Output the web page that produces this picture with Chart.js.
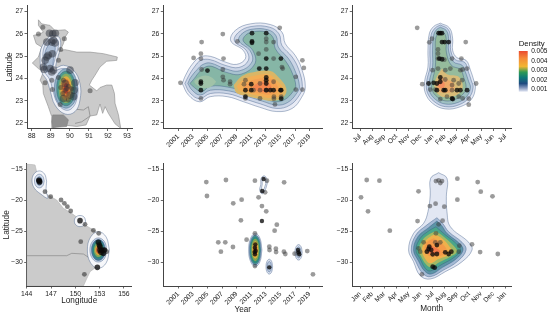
<!DOCTYPE html>
<html>
<head>
<meta charset="utf-8">
<title>Density by place and time</title>
<script src="https://cdn.jsdelivr.net/npm/chart.js@4/dist/chart.umd.min.js"></script>
<style>
  body { margin: 0; background: #fff; }
  canvas { position: absolute; }
</style>
</head>
<body>
<canvas id="p1"></canvas><canvas id="p2"></canvas><canvas id="p3"></canvas>
<canvas id="p4"></canvas><canvas id="p5"></canvas><canvas id="p6"></canvas>
<canvas id="legend"></canvas>
<script>
// tick lists
const yearTicks = [2001, 2003, 2005, 2007, 2009, 2011, 2013, 2015, 2017, 2019];
const monthsFromJul = ['Jul', 'Aug', 'Sep', 'Oct', 'Nov', 'Dec', 'Jan', 'Feb', 'Mar', 'Apr', 'May', 'Jun', 'Jul'];
const monthsFromJan = ['Jan', 'Feb', 'Mar', 'Apr', 'May', 'Jun', 'Jul', 'Aug', 'Sep', 'Oct', 'Nov', 'Dec', 'Jan'];
const monthTicks = [0, 1, 2, 3, 4, 5, 6, 7, 8, 9, 10, 11, 12];
const topLatTicks = [22, 23, 24, 25, 26, 27];
const bottomLatTicks = [-30, -25, -20, -15];
const topLonTicks = [88, 89, 90, 91, 92, 93];
const bottomLonTicks = [144, 147, 150, 153, 156];
const densityTicks = [0.001, 0.002, 0.003, 0.004, 0.005];

// maps
const bangladeshOutline = [[88.35,26.63],[88.52,26.45],[88.7,26.42],[88.96,26.38],[89.22,26.15],[89.75,26.18],[89.92,26.08],[89.75,25.85],[89.66,25.56],[89.49,25.26],[89.75,25.29],[90.36,25.18],[91.06,25.18],[91.76,25.11],[92.49,24.96],[92.46,24.81],[91.93,24.77],[91.58,24.51],[91.32,24.14],[91.15,23.92],[91.02,23.7],[91.41,23.44],[91.58,23.59],[91.93,23.7],[92.2,23.7],[92.34,23.32],[92.37,22.88],[92.55,22.36],[92.67,21.76],[92.37,21.96],[92.02,22.43],[91.85,22.73],[91.72,22.43],[91.58,22.85],[91.41,22.36],[91.06,22.31],[90.85,21.91],[90.36,21.84],[89.66,21.91],[89.05,21.78],[89.05,22.28],[88.87,22.73],[88.61,23.32],[88.58,23.7],[88.44,23.92],[88.61,24.29],[88.35,24.44],[88.03,24.69],[88.35,24.96],[88.52,25.41],[88.23,25.56],[88.09,25.93],[88.44,26],[88.61,26.08],[88.35,26.38]];
const sundarbans = [[89.1,22.36],[89.66,22.36],[89.92,22.14],[89.83,21.84],[89.1,21.79],[89.05,22.05]];
const deltaRiver = [[90.25,22.62],[90.71,22.58],[90.97,22.73],[91.06,22.31],[90.62,22.05],[90.27,21.98]];
const queenslandOutline = [[144,-14.14],[145.03,-14.35],[145.32,-15.97],[145.65,-17.85],[146.26,-18.92],[147.7,-20],[148.53,-21.34],[149.56,-22.15],[150.38,-22.96],[151.2,-24.03],[152.44,-25],[153.05,-25.65],[153.26,-26.99],[153.88,-28.33],[153.26,-29.95],[152.64,-30.75],[151.82,-31.56],[151.33,-32.9],[151,-33.87],[144,-33.87]];
const stateBorder = [[144,-28.98],[148.94,-28.98],[149.56,-28.6],[151,-28.71],[151.82,-29.41]];

// panel 1: latitude by longitude, Bangladesh
const p1Sites = [[88.58,26.3],[88.35,25.99],[89.71,25.78],[89.52,25.3],[89.4,24.81],[88.7,23.8],[89.05,23.92],[89.08,23.5],[89.4,24.04],[89.49,22.83],[91.06,23.44],[89.66,23.92],[89.92,23.65],[89.84,23.55],[89.75,23.47],[89.63,23.32],[89.92,23.03],[90.1,23.55],[89.52,23.59]];
const p1Clusters = [[88.93,26.03],[89.1,26],[89.24,26.03],[88.79,25.63],[89.14,25.71],[89.22,25.59],[89.05,25.63],[89.08,25.11],[88.79,24.96],[88.7,24.81],[88.87,25.04],[88.61,24.51],[88.65,24.4],[88.96,24.44],[89.14,24.37],[89.05,24.29],[90.01,24.37],[90.27,23.8],[89.75,23.77],[90.01,23.25],[90.19,23.18],[89.66,23.1],[90.22,23.47]];
const p1Levels = [
  [[88.96,25.93],[89.4,25.88],[89.52,25.48],[89.35,24.89],[89.28,24.49],[89.66,24.59],[90.19,24.37],[90.53,23.77],[90.53,23.03],[90.27,22.51],[89.75,22.4],[89.22,22.8],[88.96,23.47],[88.79,23.92],[88.52,24.29],[88.44,24.89],[88.52,25.41]],
  [[88.96,25.82],[89.31,25.78],[89.4,25.48],[89.22,24.89],[89.14,24.37],[89.66,24.44],[90.05,24.25],[90.4,23.7],[90.36,23.06],[90.1,22.65],[89.75,22.58],[89.35,22.88],[89.1,23.47],[88.96,23.92],[88.65,24.34],[88.58,24.89],[88.65,25.41]],
  [[88.96,25.63],[89.22,25.48],[89.14,24.89],[89.05,24.44],[88.79,24.29],[88.67,24.59],[88.7,25.18]],
  [[90.41,23.55],[90.23,24.18],[89.8,24.44],[89.37,24.18],[89.19,23.55],[89.37,22.92],[89.8,22.66],[90.23,22.92]],
  [[90.29,23.55],[90.15,24.1],[89.8,24.33],[89.45,24.1],[89.31,23.55],[89.45,23],[89.8,22.77],[90.15,23]],
  [[90.18,23.55],[90.07,24.02],[89.8,24.21],[89.53,24.02],[89.42,23.55],[89.53,23.08],[89.8,22.89],[90.07,23.08]],
  [[90.1,23.55],[90.01,23.94],[89.8,24.1],[89.59,23.94],[89.5,23.55],[89.59,23.16],[89.8,23],[90.01,23.16]],
  [[90.04,23.55],[89.97,23.85],[89.8,23.97],[89.63,23.85],[89.56,23.55],[89.63,23.25],[89.8,23.13],[89.97,23.25]],
  [[89.93,23.55],[89.89,23.72],[89.8,23.79],[89.71,23.72],[89.67,23.55],[89.71,23.38],[89.8,23.31],[89.89,23.38]]
];
const p1LevelFill = ['#eef0f6', '#d5ddec', '#aebfd6', '#8fb0c2', '#4f9a8c', '#86ab62', '#dfab42', '#e58232', '#c9442a'];

// panel 2: latitude by year, Bangladesh
const p2Sites = [[2001.3,23.8],[2003.1,24.92],[2004.1,25.11],[2004.1,24.89],[2004.2,25.63],[2007.1,25.99],[2007.2,24.89],[2007.1,24.4],[2007.1,24.07],[2007.2,23.92],[2008.1,23.85],[2008.1,23.74],[2009.1,25.66],[2004.2,24.4],[2004.1,23.1],[2010.2,23.92],[2010,23.74],[2012,25.11],[2014.06,25.63],[2014.9,26.27],[2014.06,24.89],[2013.05,25.78],[2013.05,25.63],[2013.05,25.3],[2015.2,24.51],[2015.3,24.44],[2017.1,24.07],[2017.1,23.5],[2018,23.5],[2018,24.81],[2018.2,24.47],[2014.24,22.83],[2012.2,23.1],[2010.2,23.1],[2012.2,23.77],[2012.2,23.47],[2011.3,23.47],[2014.06,23.85],[2014.1,23.18],[2014.1,23.09],[2015.1,23.18],[2013.05,23.47]];
const p2Heavy = [[2004.1,23.85],[2004.1,23.77],[2004.1,23.47],[2005,24.35],[2011.1,26.03],[2011.1,25.66],[2011.1,25.6],[2013.05,26.03],[2013.05,24.89],[2015.06,24.89],[2012.1,24.44],[2013.05,24.44],[2013.05,24.04],[2013.05,23.92],[2013.05,23.77],[2010.2,23.47],[2011,23.74],[2011,23.47],[2013.05,23.47],[2013.6,23.47],[2015.1,23.47],[2010.2,23.18],[2015.1,23.09],[2014.06,23.47],[2015,23.47]];
const p2Levels = [
  [[2001.55,23.77],[2002,24.14],[2002.9,24.63],[2004,24.96],[2005.4,24.99],[2007.4,24.74],[2009,24.63],[2010.2,24.89],[2009.9,25.26],[2008.2,25.68],[2008.8,26.15],[2010.9,26.45],[2013.6,26.42],[2015.2,26.08],[2015.66,25.56],[2017,25.04],[2017.9,24.44],[2018.4,23.62],[2017.9,23.15],[2016.6,22.65],[2014.5,22.51],[2012.2,22.7],[2009.95,22.95],[2007.7,23.18],[2005.4,23.18],[2003.9,22.95],[2002.4,23.25]],
  [[2001.9,23.77],[2002.4,24.1],[2003.2,24.51],[2004.1,24.81],[2005.4,24.84],[2007.4,24.59],[2009.3,24.49],[2010.6,24.81],[2010.3,25.26],[2008.7,25.68],[2009.3,26.08],[2011,26.33],[2013.5,26.3],[2014.8,26],[2015.2,25.48],[2016.6,24.96],[2017.5,24.4],[2018,23.65],[2017.6,23.25],[2016.3,22.8],[2014.5,22.65],[2012.3,22.85],[2010,23.09],[2007.8,23.31],[2005.4,23.32],[2003.9,23.09],[2002.6,23.35]],
  [[2002.3,23.77],[2002.7,24.04],[2003.6,24.4],[2004.4,24.63],[2005.4,24.69],[2007.4,24.44],[2009.4,24.34],[2011.1,24.74],[2010.8,25.26],[2009.3,25.68],[2009.7,26],[2011.1,26.21],[2013.3,26.18],[2014.4,25.91],[2014.7,25.41],[2016.1,24.89],[2017,24.34],[2017.6,23.65],[2017.2,23.32],[2016,22.92],[2014.5,22.8],[2012.5,22.98],[2010.2,23.22],[2007.9,23.44],[2005.4,23.47],[2004,23.25],[2002.9,23.47]],
  [[2002.6,23.77],[2003.2,24],[2003.9,24.29],[2004.7,24.51],[2005.6,24.54],[2007.4,24.29],[2009.6,24.19],[2011.5,24.66],[2011.2,25.26],[2009.9,25.68],[2010.2,25.93],[2011.2,26.09],[2013.05,26.08],[2014,25.82],[2014.3,25.33],[2015.7,24.78],[2016.6,24.25],[2017.1,23.65],[2016.7,23.4],[2015.7,23.07],[2014.5,22.95],[2012.7,23.1],[2010.4,23.35],[2008.1,23.59],[2005.4,23.65],[2004.2,23.4],[2003.2,23.59]],
  [[2006.2,23.85],[2005.6,24.04],[2004.7,24.13],[2003.8,24.04],[2003.2,23.85],[2003.8,23.65],[2004.7,23.56],[2005.6,23.65]],
  [[2008.6,23.7],[2009.7,24.1],[2011.3,24.28],[2013.6,24.33],[2014.7,24.06],[2015.8,23.55],[2015.4,23.16],[2014.06,23],[2012.2,23.08],[2010.2,23.22],[2008.95,23.36]],
  [[2009,23.65],[2010,23.96],[2011.5,24.12],[2013.4,24.18],[2014.4,23.93],[2015.4,23.55],[2015.1,23.26],[2013.8,23.12],[2012.2,23.2],[2010.3,23.36],[2009.4,23.44]],
  [[2009.9,23.59],[2010.6,23.84],[2012,23.98],[2013.4,24.02],[2014.3,23.8],[2014.7,23.5],[2014.06,23.28],[2012.2,23.32],[2010.6,23.46]],
  [[2011.1,23.59],[2012,23.8],[2013.15,23.84],[2013.8,23.59],[2013.4,23.39],[2012,23.42]]
];
const p2LevelFill = ['#e8ebf5', '#cbd5e6', '#a8c2cf', '#86b6a6', '#a0c2a8', '#d9b666', '#f2ae55', '#f5a052', '#f6864e'];

// panel 3: latitude by month, Bangladesh
const p3Sites = [[4.72,26.27],[5.72,25.62],[5.94,25.78],[8.73,25.63],[8.37,24.89],[8.84,24.44],[5.14,23.74],[9.59,23.77],[8.98,22.82],[8.98,23.09],[6.63,23.07],[6.44,25.3],[6.44,25.11],[6.44,24.89],[6.96,24.84],[7.6,24.89],[5.99,24.37],[6.44,24.44],[7.04,24.37],[7.46,24.44],[8.29,24.37],[8.48,24.4],[5.8,23.5],[6.22,23.5],[7.04,23.95],[7.73,23.92],[8.43,23.92],[7.6,23.7],[8.15,23.77],[7.18,23.18],[8.15,23.18],[8.48,23.1],[7.6,23.47]];
const p3Heavy = [[6.63,26.03],[6.49,26.03],[6.77,26.03],[6.77,25.63],[6.99,25.63],[7.32,25.63],[6.55,24.89],[6.77,24.86],[6.63,24.04],[6.08,23.8],[6.35,23.77],[6.63,23.85],[6.35,23.47],[6.91,23.47],[7.04,23.47],[7.6,23.1],[7.66,23.07],[8.01,23.47],[8.29,23.47],[8.84,23.47],[5.66,23.77]];
const p3Levels = [
  [[6.63,26.48],[7.38,26.27],[7.65,25.78],[7.65,25.26],[8.01,24.93],[8.76,24.81],[9.12,24.37],[9.39,23.92],[9.53,23.59],[9.2,23.06],[8.29,22.73],[7.04,22.63],[5.99,22.88],[5.39,23.35],[5.33,23.85],[5.61,24.51],[5.61,25.26],[5.72,26],[6.08,26.33]],
  [[6.63,26.4],[7.27,26.21],[7.49,25.78],[7.49,25.26],[7.87,24.84],[8.65,24.72],[8.92,24.34],[9.2,23.89],[9.34,23.59],[9.03,23.15],[8.2,22.82],[7.04,22.73],[6.1,22.97],[5.55,23.38],[5.5,23.85],[5.77,24.51],[5.77,25.26],[5.88,25.97],[6.22,26.27]],
  [[6.63,26.3],[7.13,26.15],[7.32,25.78],[7.32,25.23],[7.73,24.74],[8.43,24.59],[8.7,24.29],[8.98,23.85],[9.12,23.59],[8.84,23.21],[8.09,22.92],[7.04,22.85],[6.22,23.06],[5.72,23.44],[5.72,23.85],[5.99,24.51],[5.99,25.26],[6.08,25.93],[6.3,26.18]],
  [[6.63,26.12],[6.99,26],[7.13,25.71],[7.13,25.18],[7.54,24.59],[8.29,24.4],[8.57,24.04],[8.76,23.59],[8.48,23.28],[7.87,23.06],[7.04,22.99],[6.35,23.18],[5.94,23.5],[5.99,23.92],[6.22,24.51],[6.22,25.26],[6.27,25.85]],
  [[6.77,24.44],[7.18,24.19],[8.15,24.07],[8.48,23.59],[8,23.25],[7.04,23.15],[6.44,23.29],[6.16,23.59],[6.27,23.99]],
  [[6.71,24.1],[7.18,23.95],[7.73,23.77],[7.73,23.44],[7.04,23.35],[6.49,23.44],[6.33,23.77]],
  [[6.71,23.92],[6.99,23.77],[6.91,23.59],[6.55,23.59],[6.38,23.77]]
];
const p3LevelFill = ['#e4e9f4', '#c0cfe2', '#9fc0c2', '#95bb9c', '#d8bc78', '#eeaa68', '#f58e60'];

// panel 4: latitude by longitude, Queensland coast
const p4Sites = [[146.26,-18.66],[146.96,-19.46],[148.24,-20],[148.65,-20.54],[149.02,-21.08],[149.43,-21.77],[151.2,-23.92],[152.23,-24.89],[152.89,-25.38],[150.67,-26.72],[151.12,-31.99],[153.88,-28.33],[153.67,-28.06]];
const p4Heavy = [[145.56,-16.94],[145.5,-16.8],[145.6,-17.1],[150.58,-23.33],[152.72,-30.86],[152.85,-26.83],[153.05,-27.53],[153.26,-28.06],[153.47,-28.6],[153.05,-28.06],[152.97,-27.26],[153.18,-28.44],[153.55,-28.06]];
const p4Levels = [
  [[146.46,-16.94],[146.2,-15.8],[145.56,-15.3],[144.9,-15.8],[144.66,-16.94],[144.95,-18.1],[145.7,-19],[146.6,-19.7],[146.4,-18.6]],
  [[146.16,-16.94],[145.98,-16.16],[145.56,-15.84],[145.14,-16.16],[144.96,-16.94],[145.14,-17.72],[145.56,-18.04],[145.98,-17.72]],
  [[145.91,-16.94],[145.81,-16.45],[145.56,-16.24],[145.31,-16.45],[145.21,-16.94],[145.31,-17.43],[145.56,-17.64],[145.81,-17.43]],
  [[151.28,-23.39],[151.08,-22.75],[150.58,-22.49],[150.08,-22.75],[149.88,-23.39],[150.08,-24.03],[150.58,-24.29],[151.08,-24.03]],
  [[154.21,-28.06],[153.81,-25.97],[152.85,-25.1],[151.89,-25.97],[151.49,-28.06],[151.89,-30.15],[152.85,-31.02],[153.81,-30.15]],
  [[153.9,-28.06],[153.59,-26.68],[152.85,-26.11],[152.11,-26.68],[151.8,-28.06],[152.11,-29.44],[152.85,-30.01],[153.59,-29.44]],
  [[153.7,-28.06],[153.45,-26.86],[152.85,-26.36],[152.25,-26.86],[152,-28.06],[152.25,-29.26],[152.85,-29.76],[153.45,-29.26]],
  [[153.55,-28.06],[153.35,-27.07],[152.85,-26.66],[152.35,-27.07],[152.15,-28.06],[152.35,-29.05],[152.85,-29.46],[153.35,-29.05]],
  [[153.4,-28.06],[153.24,-27.25],[152.85,-26.91],[152.46,-27.25],[152.3,-28.06],[152.46,-28.87],[152.85,-29.21],[153.24,-28.87]],
  [[153.25,-28.06],[153.13,-27.46],[152.85,-27.21],[152.57,-27.46],[152.45,-28.06],[152.57,-28.66],[152.85,-28.91],[153.13,-28.66]],
  [[153.13,-28.06],[153.05,-27.64],[152.85,-27.46],[152.65,-27.64],[152.57,-28.06],[152.65,-28.48],[152.85,-28.66],[153.05,-28.48]]
];
const p4LevelFill = ['#f6f7fa', '#d5deec', '#8aa6c8', '#f6f7fa', '#f6f7fa', '#c8d4e6', '#3f7d94', '#2e8a7c', '#7fa55c', '#dda43a', '#b9582c'];

// panel 5: latitude by year, Queensland coast
const p5Sites = [[2004.84,-17.1],[2004.93,-19.35],[2007.53,-16.77],[2008.53,-20.54],[2009.68,-19.95],[2009.58,-23.28],[2006.48,-26.83],[2007.44,-26.83],[2006.84,-28.33],[2008.49,-27.58],[2010.36,-26.4],[2011.5,-16.88],[2013.15,-16.88],[2012,-19.57],[2012.46,-20.97],[2013.05,-21.83],[2012.9,-18.76],[2015.5,-17.15],[2014.5,-23.98],[2014.2,-24.95],[2013.47,-27.53],[2013.5,-28.06],[2014.37,-27.85],[2014.4,-28.39],[2015.47,-28.33],[2015.66,-28.71],[2016.94,-28.66],[2018.67,-28.23],[2019.45,-31.99],[2011.5,-25.38],[2011.5,-30.65]];
const p5Heavy = [[2012.69,-16.61],[2012.5,-18.55],[2012.46,-23.39],[2013.47,-30.86],[2017.48,-28.44],[2017.4,-28.06],[2017.57,-28.76],[2011.55,-27.15],[2011.5,-27.69],[2011.6,-28.23],[2011.5,-28.76],[2011.45,-28.4]];
const p5Levels = [
  [[2013.2,-17.3],[2013.1,-16.5],[2012.75,-16.1],[2012.35,-16.5],[2012.3,-17.5],[2012.15,-18.4],[2012.5,-19],[2012.9,-18.4]],
  [[2013,-17.3],[2012.9,-16.7],[2012.72,-16.5],[2012.52,-16.7],[2012.5,-17.5],[2012.38,-18.3],[2012.5,-18.7],[2012.72,-18.3]],
  [[2013.92,-30.75],[2013.79,-29.9],[2013.47,-29.55],[2013.15,-29.9],[2013.02,-30.75],[2013.15,-31.6],[2013.47,-31.95],[2013.79,-31.6]],
  [[2013.77,-30.75],[2013.68,-30.15],[2013.47,-29.9],[2013.26,-30.15],[2013.17,-30.75],[2013.26,-31.35],[2013.47,-31.6],[2013.68,-31.35]],
  [[2017.98,-28.44],[2017.83,-27.56],[2017.48,-27.19],[2017.13,-27.56],[2016.98,-28.44],[2017.13,-29.32],[2017.48,-29.69],[2017.83,-29.32]],
  [[2017.81,-28.44],[2017.71,-27.8],[2017.48,-27.54],[2017.25,-27.8],[2017.15,-28.44],[2017.25,-29.08],[2017.48,-29.34],[2017.71,-29.08]],
  [[2012.46,-28.06],[2012.19,-26.16],[2011.55,-25.37],[2010.91,-26.16],[2010.64,-28.06],[2010.91,-29.96],[2011.55,-30.75],[2012.19,-29.96]],
  [[2012.35,-28.06],[2012.12,-26.33],[2011.55,-25.61],[2010.98,-26.33],[2010.75,-28.06],[2010.98,-29.79],[2011.55,-30.51],[2012.12,-29.79]],
  [[2012.25,-28.06],[2012.04,-26.5],[2011.55,-25.86],[2011.06,-26.5],[2010.85,-28.06],[2011.06,-29.62],[2011.55,-30.26],[2012.04,-29.62]],
  [[2012.1,-28.06],[2011.94,-26.79],[2011.55,-26.26],[2011.16,-26.79],[2011,-28.06],[2011.16,-29.33],[2011.55,-29.86],[2011.94,-29.33]],
  [[2011.97,-28.06],[2011.85,-27.07],[2011.55,-26.66],[2011.25,-27.07],[2011.13,-28.06],[2011.25,-29.05],[2011.55,-29.46],[2011.85,-29.05]],
  [[2011.85,-28.06],[2011.76,-27.35],[2011.55,-27.06],[2011.34,-27.35],[2011.25,-28.06],[2011.34,-28.77],[2011.55,-29.06],[2011.76,-28.77]],
  [[2011.7,-28.06],[2011.66,-27.71],[2011.55,-27.56],[2011.44,-27.71],[2011.4,-28.06],[2011.44,-28.41],[2011.55,-28.56],[2011.66,-28.41]]
];
const p5LevelFill = ['#e4e9f4', '#ffffff', '#dce3f0', '#b6c6dc', '#dce3f0', '#b6c6dc', '#e4e9f4', '#5c8fa8', '#2e8a7c', '#86a54f', '#e3b13c', '#e27d2c', '#a83c22'];

// panel 6: latitude by month, Queensland coast
const p6Sites = [[0.08,-19.57],[0.55,-16.77],[0.66,-21.83],[1.6,-16.88],[2.46,-24.95],[4.83,-18.6],[4.75,-23.39],[5.77,-20.97],[6.24,-20.59],[6.96,-21.08],[8.04,-16.56],[8.04,-19.95],[9.72,-17.1],[9.97,-18.66],[10.94,-19.41],[11.38,-28.71],[9.92,-28.39],[9.25,-27.15],[6.27,-16.94],[6.49,-16.83],[6.63,-17.26],[6.77,-16.94],[6.82,-23.33],[6.49,-23.92],[5.11,-31.99],[8.2,-27.37],[8.15,-28.33],[6.22,-26.83],[6.63,-26.83],[4.83,-27.8],[4.97,-28.33],[5.25,-26.83],[6.27,-25.38]];
const p6Heavy = [[5.72,-27.53],[5.66,-27.9],[5.52,-28.33],[5.88,-28.06],[6,-28.76],[6.35,-28.71],[7.04,-28.44],[7.32,-28.71],[7.54,-28.33],[6,-30.75],[6.16,-30.91],[6.35,-27.26]];
const p6Levels = [
  [[6.49,-15.59],[7.18,-16.5],[7.13,-19.46],[7.18,-21.88],[7.46,-24.3],[8.98,-26.83],[9.25,-28.06],[8.43,-29.95],[7.04,-31.56],[5.8,-32.74],[4.97,-32.2],[4.42,-29.95],[4.01,-28.06],[4.42,-25.38],[5.25,-23.76],[5.61,-21.88],[5.8,-19.19],[5.83,-16.5]],
  [[6.35,-22.85],[6.82,-23.76],[7.32,-25.11],[8.43,-26.83],[8.76,-28.06],[8.09,-29.84],[6.91,-31.29],[5.8,-32.37],[5.17,-31.83],[4.61,-29.95],[4.23,-28.06],[4.61,-25.65],[5.52,-24.03]],
  [[6.35,-23.39],[6.77,-24.19],[7.18,-25.38],[8.2,-26.99],[8.51,-28.06],[7.93,-29.52],[6.82,-30.86],[5.88,-31.94],[5.33,-31.45],[4.83,-29.84],[4.42,-28.06],[4.78,-25.91],[5.66,-24.46]],
  [[6.27,-24.3],[7,-25.54],[8.01,-27.15],[8.29,-28.17],[7.73,-29.3],[6.77,-30.38],[5.8,-31.45],[5.39,-31.02],[4.97,-29.52],[4.61,-28.06],[4.97,-26.18],[5.66,-25]],
  [[6.27,-25],[6.91,-25.91],[7.73,-27.37],[8.01,-28.33],[7.46,-29.14],[6.63,-29.95],[5.8,-30.81],[5.44,-30.38],[5.06,-29.14],[4.83,-28.06],[5.17,-26.45],[5.72,-25.54]],
  [[6.22,-25.54],[6.83,-26.29],[7.46,-27.69],[7.65,-28.44],[7.18,-29.03],[6.49,-29.52],[5.8,-30.22],[5.39,-29.52],[5.11,-28.06],[5.39,-26.61],[5.8,-25.91]],
  [[6.08,-26.18],[6.63,-26.83],[7.18,-28.06],[6.99,-28.76],[6.22,-29.14],[5.66,-28.98],[5.33,-28.06],[5.52,-26.83]],
  [[5.88,-27.37],[6.35,-27.8],[6.63,-28.44],[6.08,-28.76],[5.61,-28.44],[5.52,-27.8]]
];
const p6LevelFill = ['#e2e7f3', '#a4bad4', '#5c95a6', '#4aa58a', '#a2b964', '#f0b04c', '#f59a48', '#f3794a'];

Chart.defaults.font.family = '"Liberation Sans", Arial, sans-serif';
Chart.defaults.color = '#222';

const closed = pts => pts.concat([pts[0]]).map(p => ({ x: p[0], y: p[1] }));

function mapShape(pts, fillColor, lineColor) {
  return {
    data: closed(pts), showLine: true, fill: 'shape', backgroundColor: fillColor,
    borderColor: lineColor, borderWidth: 0.6, pointRadius: 0, tension: 0
  };
}

function mapLine(pts, lineColor, width) {
  return {
    data: pts.map(p => ({ x: p[0], y: p[1] })), showLine: true, fill: false,
    borderColor: lineColor, borderWidth: width, pointRadius: 0, tension: 0
  };
}

// the last `unlined` levels are plain colour with no outline
function contours(levels, fills, unlined) {
  return levels.map((pts, i) => ({
    data: closed(pts), showLine: true, fill: 'shape', backgroundColor: fills[i],
    borderColor: i < levels.length - unlined ? 'rgba(50,80,125,0.65)' : 'rgba(0,0,0,0)',
    borderWidth: 0.6, pointRadius: 0, tension: 0.4
  }));
}

function dots(pts, color, radius) {
  return {
    data: pts.map(p => ({ x: p[0], y: p[1] })), showLine: false,
    backgroundColor: color, borderWidth: 0, pointRadius: radius, pointHoverRadius: radius
  };
}

const sited = 'rgba(55,55,55,0.5)';
const heavy = 'rgba(10,10,10,0.78)';

// box: canvas left/top/width/height, area: chart area in page pixels
function panel(id, box, area, xAxis, yAxis, datasets) {
  const canvas = document.getElementById(id);
  canvas.width = box.w;
  canvas.height = box.h;
  canvas.style.left = box.x + 'px';
  canvas.style.top = box.y + 'px';
  // later datasets paint over earlier ones
  datasets.forEach((d, i) => { d.order = -i; });
  const axisBase = {
    type: 'linear',
    grid: { display: true, drawOnChartArea: false, drawTicks: true, tickLength: 2.5, tickColor: '#444', tickWidth: 0.8 },
    border: { display: true, color: '#444', width: 1 }
  };
  new Chart(canvas, {
    type: 'scatter',
    data: { datasets: datasets },
    options: {
      responsive: false,
      animation: false,
      layout: { padding: { left: 0, top: area.top - box.y, right: box.x + box.w - area.right, bottom: 0 } },
      plugins: { legend: { display: false }, tooltip: { enabled: false } },
      scales: {
        x: Object.assign({}, axisBase, {
          min: xAxis.min, max: xAxis.max,
          afterBuildTicks: s => { s.ticks = xAxis.ticks.map(v => ({ value: v })); },
          afterFit: s => { s.height = box.y + box.h - area.bottom; },
          ticks: {
            autoSkip: false, font: { size: 6.8 }, padding: 1.5,
            maxRotation: xAxis.rotate, minRotation: xAxis.rotate, callback: xAxis.label
          },
          title: { display: !!xAxis.title, text: xAxis.title, font: { size: 8.2 }, padding: { top: 1, bottom: xAxis.titleGap || 0 }, color: '#222' }
        }),
        y: Object.assign({}, axisBase, {
          min: yAxis.min, max: yAxis.max,
          afterBuildTicks: s => { s.ticks = yAxis.ticks.map(v => ({ value: v })); },
          afterFit: s => { s.width = area.left - box.x; },
          ticks: { autoSkip: false, font: { size: 6.8 }, padding: 1.5, callback: v => String(v).replace('-', '\u2212') },
          title: { display: !!yAxis.title, text: yAxis.title, font: { size: 8.2 }, padding: { top: yAxis.titleGap || 0, bottom: 1 }, color: '#222' }
        })
      }
    }
  });
}

const plainLabel = v => String(v);
const topLat = { min: 21.75, max: 27.27, ticks: topLatTicks };
const bottomLat = { min: -33.87, max: -14.14, ticks: bottomLatTicks };
const years = { min: 1998.95, max: 2020.73, ticks: yearTicks, rotate: 45, label: plainLabel };
const monthRange = { min: -0.64, max: 12.47, ticks: monthTicks, rotate: 45 };

const mapFill = '#cbcbcb';
const mapEdge = '#8b8b8b';

panel('p1', { x: 0, y: 0, w: 140, h: 158 }, { left: 27, right: 132, top: 5, bottom: 128.5 },
  { min: 87.75, max: 93.26, ticks: topLonTicks, rotate: 0, label: plainLabel },
  Object.assign({}, topLat, { title: 'Latitude', titleGap: 5 }),
  [mapShape(bangladeshOutline, mapFill, mapEdge), mapShape(sundarbans, '#8f8f8f', '#808080'), mapLine(deltaRiver, '#8b8b8b', 0.8)]
    .concat(contours(p1Levels, p1LevelFill, 4), dots(p1Sites, sited, 2.5), dots(p1Clusters, 'rgba(45,50,60,0.5)', 3.8)));

panel('p2', { x: 140, y: 0, w: 192, h: 158 }, { left: 163.3, right: 322.3, top: 5, bottom: 128.5 },
  years, topLat,
  contours(p2Levels, p2LevelFill, 5).concat(dots(p2Sites, sited, 2.4), dots(p2Heavy, heavy, 2.4)));

panel('p3', { x: 332, y: 0, w: 186, h: 158 }, { left: 352.3, right: 511, top: 5, bottom: 128.5 },
  Object.assign({}, monthRange, { label: v => monthsFromJul[v] }), topLat,
  contours(p3Levels, p3LevelFill, 3).concat(dots(p3Sites, sited, 2.4), dots(p3Heavy, heavy, 2.4)));

panel('p4', { x: 0, y: 158, w: 140, h: 158 }, { left: 26.7, right: 131.7, top: 163.7, bottom: 286 },
  { min: 144, max: 156.96, ticks: bottomLonTicks, rotate: 0, label: plainLabel, title: 'Longitude', titleGap: 10 },
  Object.assign({}, bottomLat, { title: 'Latitude', titleGap: 2 }),
  [mapShape(queenslandOutline, mapFill, '#b5b5b5'), mapLine(stateBorder, '#909090', 0.8)]
    .concat(contours(p4Levels, p4LevelFill, 4), dots(p4Sites, 'rgba(50,50,50,0.6)', 2.4), dots(p4Heavy, heavy, 2.8)));

panel('p5', { x: 140, y: 158, w: 192, h: 158 }, { left: 163.3, right: 322.3, top: 163.7, bottom: 286 },
  Object.assign({}, years, { title: 'Year', titleGap: 1 }), bottomLat,
  contours(p5Levels, p5LevelFill, 5).concat(dots(p5Sites, sited, 2.4), dots(p5Heavy, heavy, 2.2)));

panel('p6', { x: 332, y: 158, w: 186, h: 158 }, { left: 352.3, right: 511, top: 163.7, bottom: 286 },
  Object.assign({}, monthRange, { label: v => monthsFromJan[v], title: 'Month', titleGap: 2 }), bottomLat,
  contours(p6Levels, p6LevelFill, 4).concat(dots(p6Sites, sited, 2.4), dots(p6Heavy, heavy, 2.4)));

// colour bar
const legendCanvas = document.getElementById('legend');
legendCanvas.width = 45;
legendCanvas.height = 65;
legendCanvas.style.left = '505px';
legendCanvas.style.top = '35px';
new Chart(legendCanvas, {
  type: 'bar',
  data: {
    labels: ['Density'],
    datasets: [{
      data: [[0.00074, 0.00507]],
      barPercentage: 1,
      categoryPercentage: 1,
      backgroundColor: ctx => {
        const area = ctx.chart.chartArea;
        if (!area) return '#888';
        const g = ctx.chart.ctx.createLinearGradient(0, area.bottom, 0, area.top);
        g.addColorStop(0, '#e4e8f4');
        g.addColorStop(0.1, '#7f93ba');
        g.addColorStop(0.2, '#1f4a80');
        g.addColorStop(0.35, '#0f7a78');
        g.addColorStop(0.48, '#2f9a55');
        g.addColorStop(0.62, '#f2b632');
        g.addColorStop(0.82, '#f58a38');
        g.addColorStop(1, '#ea4a30');
        return g;
      }
    }]
  },
  options: {
    responsive: false,
    animation: false,
    layout: { padding: { left: 13.7, top: 0, right: 0, bottom: 8.3 } },
    plugins: {
      legend: { display: false },
      tooltip: { enabled: false },
      title: { display: true, text: 'Density', align: 'start', color: '#111', font: { size: 7.8, weight: 'normal' }, padding: { top: 4, bottom: 2.6 } }
    },
    scales: {
      x: { display: false },
      y: {
        position: 'right', min: 0.00074, max: 0.00507,
        afterBuildTicks: s => { s.ticks = densityTicks.map(v => ({ value: v })); },
        afterFit: s => { s.width = 22.3; },
        grid: { display: false, drawTicks: false, tickLength: 0 },
        border: { display: false },
        ticks: { autoSkip: false, font: { size: 6.5 }, padding: 3.5, color: '#111', callback: v => v.toFixed(3) }
      }
    }
  }
});
</script>
</body>
</html>
